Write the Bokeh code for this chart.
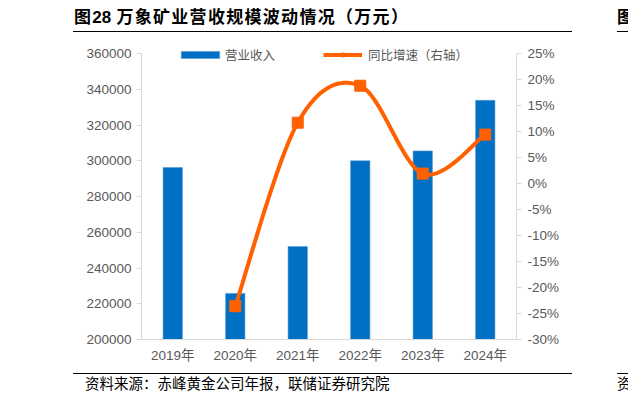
import numpy as np
from bokeh.plotting import figure
from bokeh.models import (Range1d, LinearAxis, FixedTicker, Legend, LegendItem,
                          Div, BasicTickFormatter)
from bokeh.layouts import column
from bokeh.embed import file_html
from bokeh.resources import INLINE

# ---------------- data ----------------
years = ["2019年", "2020年", "2021年", "2022年", "2023年", "2024年"]
revenue = [296200, 225800, 252000, 300000, 305500, 333800]      # 营业收入（万元）
growth_years = ["2020年", "2021年", "2022年", "2023年", "2024年"]
growth = [-23.6, 11.7, 18.8, 1.9, 9.4]                          # 同比增速（%）
left_ticks = [200000, 220000, 240000, 260000, 280000, 300000, 320000, 340000, 360000]
right_ticks = [-30, -25, -20, -15, -10, -5, 0, 5, 10, 15, 20, 25]

title_text = "万象矿业营收规模波动情况（万元）"
source_text = "资料来源：赤峰黄金公司年报，联储证券研究院"

BLUE = "#0070C4"
ORANGE = "#FF6000"
GRAY_TXT = "#595959"
AXIS = "#D9D9D9"
NUM_FONT = "Liberation Sans, Noto Sans CJK SC"

XOFF = 8          # horizontal shift of the whole page content
AXIS_H = 286      # px covered by the axes
PAD = 9           # px of frame above the top tick (room for the legend)
FRAME_H = AXIS_H + PAD

xi = list(range(len(years)))
gx = [years.index(y) for y in growth_years]

# smooth curve (Catmull-Rom / Excel-style) through the growth points
def smooth(xs, ys, n=24):
    P = np.column_stack([xs, ys]).astype(float)
    out = []
    for i in range(len(P) - 1):
        p0 = P[i - 1] if i > 0 else P[i]
        p1 = P[i]
        p2 = P[i + 1]
        p3 = P[i + 2] if i + 2 < len(P) else P[i + 1]
        c1 = p1 + (p2 - p0) / 6.0
        c2 = p2 - (p3 - p1) / 6.0
        t = np.linspace(0, 1, n, endpoint=(i == len(P) - 2))[:, None]
        seg = ((1 - t) ** 3) * p1 + 3 * ((1 - t) ** 2) * t * c1 + 3 * (1 - t) * t * t * c2 + (t ** 3) * p2
        out.append(seg)
    a = np.vstack(out)
    return a[:, 0], a[:, 1]

sx, sy = smooth(gx, growth)

lspan = left_ticks[-1] - left_ticks[0]
rspan = right_ticks[-1] - right_ticks[0]
ltop = left_ticks[-1] + lspan * PAD / AXIS_H
rtop = right_ticks[-1] + rspan * PAD / AXIS_H

# ---------------- figure ----------------
p = figure(width=612, height=330, output_backend="svg", toolbar_location=None,
           x_range=Range1d(-0.5, len(years) - 0.5),
           y_range=Range1d(left_ticks[0], ltop),
           min_border_left=133 + XOFF, min_border_right=104 - XOFF,
           min_border_top=330 - 29 - FRAME_H, min_border_bottom=29)
p.outline_line_color = None
p.grid.grid_line_color = None
p.background_fill_color = "white"
p.border_fill_color = "white"
p.extra_y_ranges = {"pct": Range1d(right_ticks[0], rtop)}

bars = p.vbar(x=xi, top=revenue, bottom=left_ticks[0], width=0.31,
              fill_color=BLUE, line_color="#5B9BD5", line_width=0.6)

ln = p.line(sx, sy, y_range_name="pct", line_color=ORANGE, line_width=4)
mk = p.scatter(gx, growth, y_range_name="pct", marker="square", size=11,
               fill_color=ORANGE, line_color=ORANGE)

# axes
xa = p.xaxis[0]
xa.ticker = FixedTicker(ticks=xi)
xa.major_label_overrides = {i: y for i, y in enumerate(years)}
xa.axis_line_color = AXIS
xa.major_tick_line_color = None
xa.minor_tick_line_color = None
xa.major_label_standoff = 2
xa.major_label_text_font = NUM_FONT
xa.major_label_text_font_size = "13.5px"
xa.major_label_text_color = GRAY_TXT

ya = p.yaxis[0]
ya.ticker = FixedTicker(ticks=left_ticks)
ya.bounds = (left_ticks[0], left_ticks[-1])
ya.formatter = BasicTickFormatter(use_scientific=False)
ya.axis_line_color = AXIS
ya.major_tick_line_color = AXIS
ya.major_tick_out = 5
ya.major_tick_in = 0
ya.minor_tick_line_color = None
ya.major_label_standoff = 5
ya.major_label_text_font = NUM_FONT
ya.major_label_text_font_size = "13.5px"
ya.major_label_text_color = GRAY_TXT

ra = LinearAxis(y_range_name="pct", ticker=FixedTicker(ticks=right_ticks),
                bounds=(right_ticks[0], right_ticks[-1]))
ra.major_label_overrides = {t: f"{t}%" for t in right_ticks}
ra.axis_line_color = AXIS
ra.major_tick_line_color = AXIS
ra.major_tick_out = 5
ra.major_tick_in = 0
ra.minor_tick_line_color = None
ra.major_label_standoff = 6
ra.major_label_text_font = NUM_FONT
ra.major_label_text_font_size = "13.5px"
ra.major_label_text_color = GRAY_TXT
p.add_layout(ra, "right")

# legends
def style_legend(lg):
    lg.orientation = "horizontal"
    lg.border_line_color = None
    lg.background_fill_alpha = 0
    lg.padding = 0
    lg.margin = 0
    lg.spacing = 0
    lg.label_standoff = 6
    lg.label_text_font = "Noto Sans CJK SC"
    lg.label_text_font_size = "12.5px"
    lg.label_text_color = GRAY_TXT
    lg.label_height = 13
    lg.glyph_height = 9

LEG_Y = FRAME_H - PAD - 11
lg1 = Legend(items=[LegendItem(label="营业收入", renderers=[bars])], location=(35, LEG_Y))
style_legend(lg1)
lg1.glyph_width = 48
lg1.label_standoff = 1
lg2 = Legend(items=[LegendItem(label="同比增速（右轴）", renderers=[ln, mk])], location=(182, LEG_Y))
style_legend(lg2)
lg2.glyph_width = 39
p.add_layout(lg1, "center")
p.add_layout(lg2, "center")

# ---------------- title / source ----------------
L = 60 + XOFF
title_div = Div(width=620, height=28, text=(
    '<div style="position:relative;width:620px;height:28px;">'
    f'<div style="position:absolute;left:{L}px;top:0;width:499px;height:26.5px;border-bottom:1.5px solid #000;"></div>'
    f'<div style="position:absolute;left:{L + 544}px;top:0;width:20px;height:26.5px;border-bottom:1.5px solid #000;"></div>'
    f'<div style="position:absolute;left:{L + 1}px;top:0px;line-height:22px;font-size:17px;font-weight:bold;'
    'font-family:\'Noto Sans CJK SC\';letter-spacing:1.3px;white-space:nowrap;color:#000;">'
    '图<span style="font-family:\'Liberation Sans\';letter-spacing:0;">28</span> ' + title_text + '</div>'
    f'<div style="position:absolute;left:{L + 544}px;top:0px;line-height:22px;font-size:17px;font-weight:bold;'
    'font-family:\'Noto Sans CJK SC\';color:#000;">图</div>'
    '</div>'))

source_div = Div(width=620, height=23, text=(
    '<div style="position:relative;width:620px;height:23px;">'
    f'<div style="position:absolute;left:{L}px;top:0;width:499px;height:0;border-top:1.5px solid #000;"></div>'
    f'<div style="position:absolute;left:{L + 544}px;top:0;width:20px;height:0;border-top:1.5px solid #000;"></div>'
    f'<div style="position:absolute;left:{L + 12}px;top:1px;line-height:18px;font-size:14.5px;'
    'font-family:\'Noto Sans CJK SC\';white-space:nowrap;color:#000;">' + source_text + '</div>'
    f'<div style="position:absolute;left:{L + 544}px;top:1px;line-height:18px;font-size:14.5px;'
    'font-family:\'Noto Sans CJK SC\';color:#000;">资</div>'
    '</div>'))

layout = column(title_div, p, source_div, spacing=0)
open("out.html", "w").write(file_html(layout, INLINE))
